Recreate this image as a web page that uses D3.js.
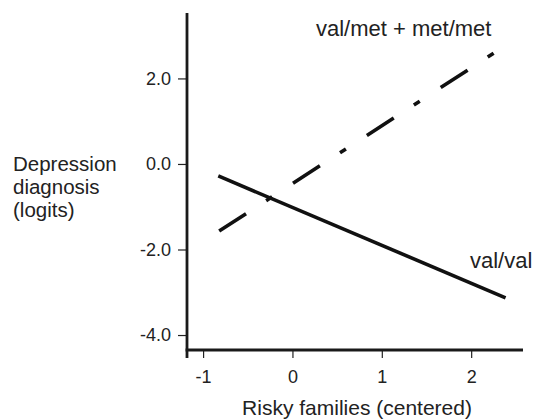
<!DOCTYPE html>
<html>
<head>
<meta charset="utf-8">
<script src="https://d3js.org/d3.v7.min.js"></script>
<style>
  body { margin: 0; background: #fff; }
  text { font-family: "Liberation Sans", Arial, Helvetica, sans-serif; fill: #222; }
</style>
</head>
<body>
<div id="chart"></div>
<script>
// data
var xTicks = [-1, 0, 1, 2];
var yTicks = [-4, -2, 0, 2];
var seriesNames = ["val/val", "val/met + met/met"];
var valValX = [-0.83, 2.385];
var valValY = [-0.28, -3.13];
var metX = [-0.82, 2.26];
var metY = [-1.57, 2.60];
var yLabelLines = ["Depression", "diagnosis", "(logits)"];
var xTitle = "Risky families (centered)";

var width = 546, height = 419;
var plotLeft = 187, plotRight = 523, plotTop = 13, plotBottom = 350;

var x = d3.scaleLinear().domain([-1.18, 2.58]).range([plotLeft, plotRight]);
var y = d3.scaleLinear().domain([-4.35, 3.53]).range([plotBottom, plotTop]);

// plain hyphen instead of unicode minus
var hyph = f => (d => f(d).replace("\u2212", "-"));

var svg = d3.select("#chart").append("svg")
    .attr("width", width)
    .attr("height", height);

// y axis ticks + labels
var yAxis = svg.append("g")
    .attr("transform", "translate(" + plotLeft + ",0)")
    .call(d3.axisLeft(y).tickValues(yTicks).tickSize(9).tickPadding(7)
      .tickFormat(hyph(d3.format(".1f"))));
yAxis.select(".domain").remove();
yAxis.selectAll(".tick line").attr("stroke", "#222").attr("stroke-width", 1.2);
yAxis.selectAll(".tick text").style("font-size", "18px")
    .attr("fill", "#222").style("font-family", '"Liberation Sans", Arial, sans-serif');

// x axis ticks + labels
var xAxis = svg.append("g")
    .attr("transform", "translate(0," + plotBottom + ")")
    .call(d3.axisBottom(x).tickValues(xTicks).tickSize(8).tickPadding(12)
      .tickFormat(hyph(d3.format("d"))));
xAxis.select(".domain").remove();
xAxis.selectAll(".tick line").attr("stroke", "#222").attr("stroke-width", 1.2);
xAxis.selectAll(".tick text").style("font-size", "18px")
    .attr("fill", "#222").style("font-family", '"Liberation Sans", Arial, sans-serif');

// heavy axis lines
svg.append("line")
    .attr("x1", plotLeft).attr("x2", plotLeft)
    .attr("y1", plotTop).attr("y2", plotBottom + 8)
    .attr("stroke", "#1a1a1a").attr("stroke-width", 2.8);
svg.append("line")
    .attr("x1", plotLeft - 1.4).attr("x2", plotRight)
    .attr("y1", plotBottom).attr("y2", plotBottom)
    .attr("stroke", "#1a1a1a").attr("stroke-width", 2.8);

var line = d3.line().x(d => x(d[0])).y(d => y(d[1]));

// val/met + met/met, dash-dot
svg.append("path")
    .datum(d3.zip(metX, metY))
    .attr("d", line)
    .attr("fill", "none")
    .attr("stroke", "#111")
    .attr("stroke-width", 3.6)
    .attr("stroke-dasharray", "32,24,7,25");

// val/val, solid
svg.append("path")
    .datum(d3.zip(valValX, valValY))
    .attr("d", line)
    .attr("fill", "none")
    .attr("stroke", "#111")
    .attr("stroke-width", 3.6);

// series labels
svg.append("text")
    .attr("x", 316).attr("y", 36)
    .style("font-size", "22px")
    .text(seriesNames[1]);
svg.append("text")
    .attr("x", 470).attr("y", 268)
    .style("font-size", "22px")
    .text(seriesNames[0]);

// y axis title
svg.append("text")
    .attr("x", 13).attr("y", 171)
    .style("font-size", "20.5px")
    .selectAll("tspan")
    .data(yLabelLines)
    .enter().append("tspan")
    .attr("x", 13)
    .attr("dy", (d, i) => i === 0 ? 0 : 23)
    .text(d => d);

// x axis title
svg.append("text")
    .attr("x", 357).attr("y", 415)
    .attr("text-anchor", "middle")
    .style("font-size", "21px")
    .text(xTitle);
</script>
</body>
</html>
